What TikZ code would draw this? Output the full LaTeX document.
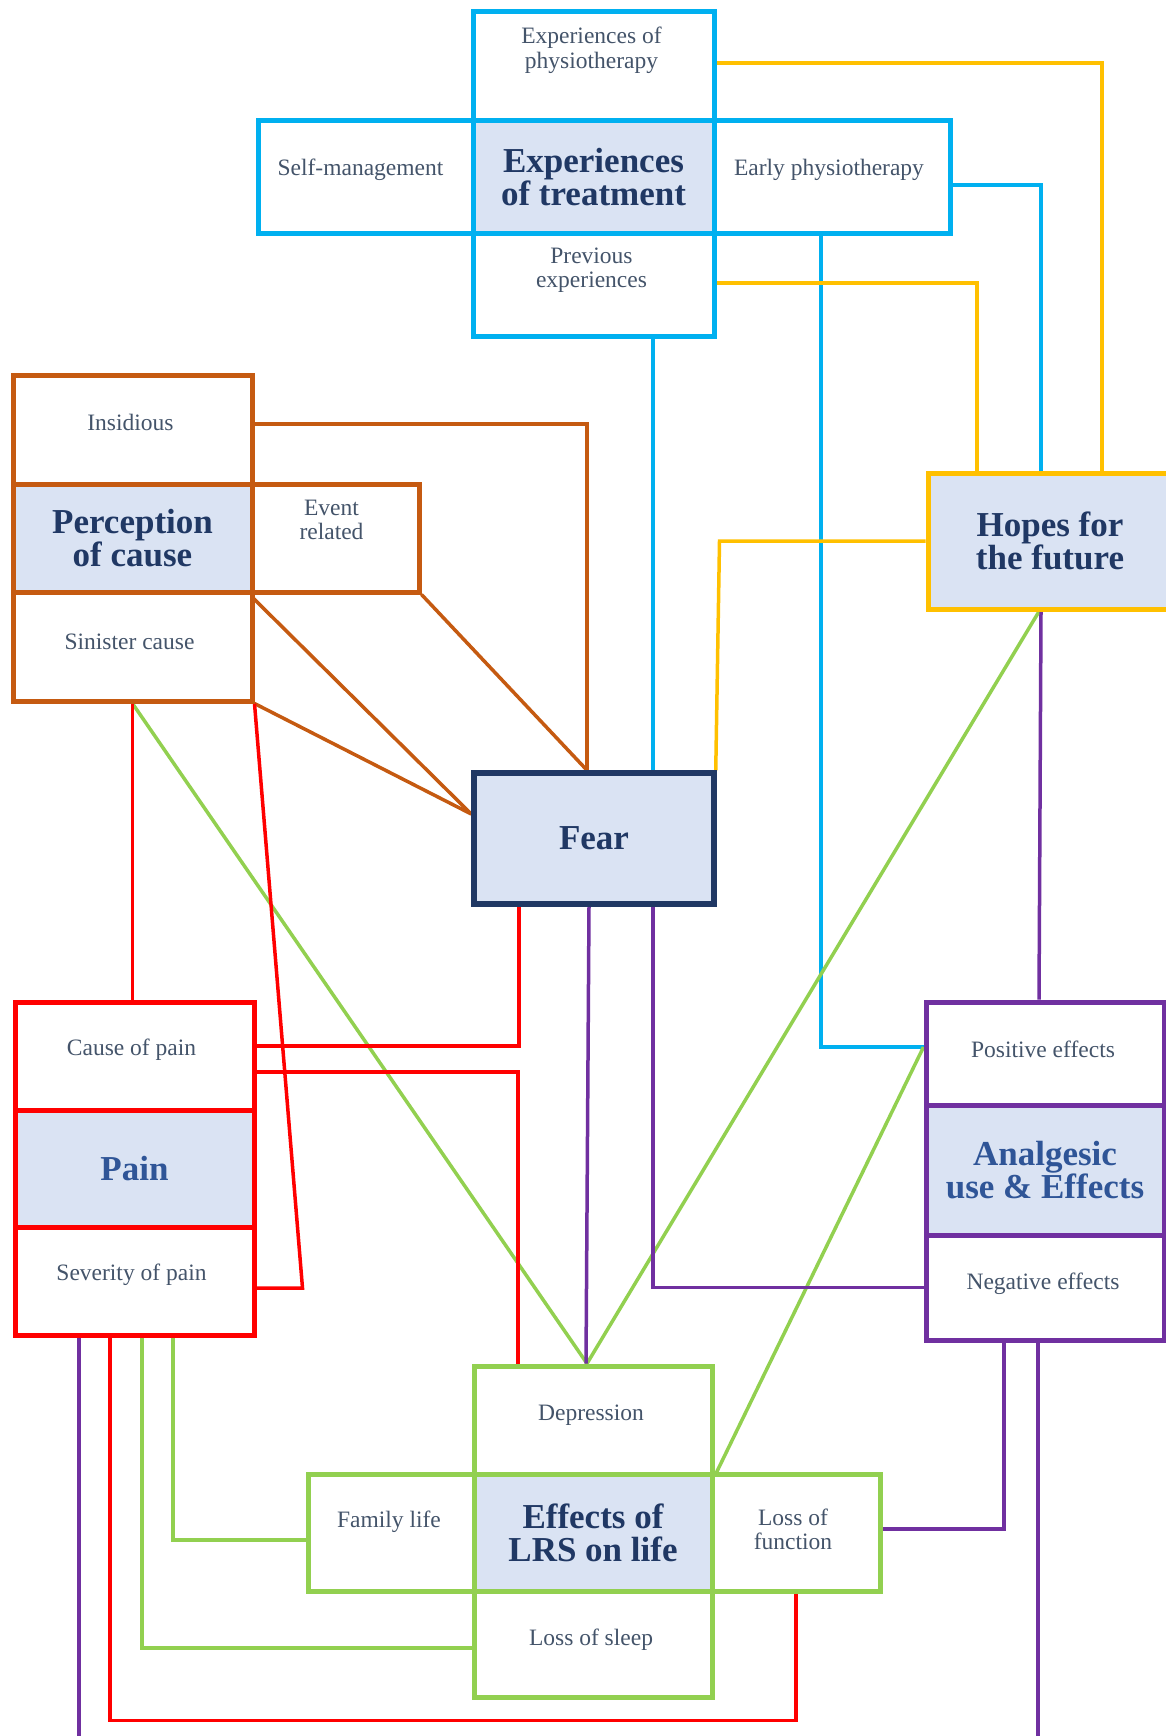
\documentclass[tikz,border=0pt]{standalone}
\usepackage{fontspec}
\setmainfont{Liberation Serif}
\usetikzlibrary{positioning,backgrounds}
\definecolor{treatblue}{RGB}{0,176,240}
\definecolor{hopegold}{RGB}{255,192,0}
\definecolor{causebrown}{RGB}{197,90,17}
\definecolor{painred}{RGB}{255,0,0}
\definecolor{lifegreen}{RGB}{146,208,80}
\definecolor{drugpurple}{RGB}{112,48,160}
\definecolor{fearnavy}{RGB}{32,56,100}
\definecolor{titleblue}{RGB}{47,85,151}
\definecolor{corefill}{RGB}{218,227,243}
\definecolor{cellgray}{RGB}{68,84,106}
\newcommand{\cellfont}{\fontsize{23.5}{24.5}\selectfont}
\newcommand{\corefont}{\bfseries\fontsize{35}{33}\selectfont}

\begin{document}
\begin{tikzpicture}[x=1pt, y=-1pt,
    cell/.style={draw, line width=5pt, fill=white, inner sep=0pt},
    core/.style={cell, fill=corefill, font=\corefont, text=fearnavy, align=center},
    celltxt/.style={font=\cellfont, text=cellgray, align=center, inner sep=0pt},
    link/.style={line width=3.5pt}]
  \useasboundingbox (0,0) rectangle (1166,1736);
  \clip (0,0) rectangle (1166,1736);

  % Experiences of treatment
  \node[cell, draw=treatblue, minimum width=241pt, minimum height=109pt] (phys) at (593.5,66.5) {};
  \node[cell, draw=treatblue, minimum width=215pt, minimum height=113pt] (selfm) at (365.5,177.5) {};
  \node[cell, draw=treatblue, minimum width=236pt, minimum height=113pt] (early) at (832,177.5) {};
  \node[cell, draw=treatblue, minimum width=241pt, minimum height=102pt] (prev) at (593.5,285) {};
  \node[core, draw=treatblue, minimum width=241pt, minimum height=113pt] (treat) at (593.5,177.5)
    {Experiences\\of treatment};
  \node[celltxt] (phys-t) at ([yshift=16pt,xshift=-2pt]phys.center) {Experiences of\\physiotherapy};
  \node[celltxt] (selfm-t) at ([yshift=8pt,xshift=-5pt]selfm.center) {Self-management};
  \node[celltxt] (early-t) at ([yshift=8pt,xshift=-3pt]early.center) {Early physiotherapy};
  \node[celltxt] (prev-t) at ([yshift=15pt,xshift=-2pt]prev.center) {Previous\\experiences};

  % Perception of cause
  \node[cell, draw=causebrown, minimum width=239pt, minimum height=109pt] (insid) at (132.5,429.5) {};
  \node[cell, draw=causebrown, minimum width=167pt, minimum height=108pt] (event) at (335.5,538) {};
  \node[cell, draw=causebrown, minimum width=239pt, minimum height=109pt] (sinis) at (132.5,646.5) {};
  \node[core, draw=causebrown, minimum width=239pt, minimum height=108pt] (percep) at (132.5,538)
    {Perception\\of cause};
  \node[celltxt] (insid-t) at ([yshift=7pt,xshift=-2pt]insid.center) {Insidious};
  \node[celltxt] (event-t) at ([yshift=18pt,xshift=-4pt]event.center) {Event\\related};
  \node[celltxt] (sinis-t) at ([yshift=5pt,xshift=-3pt]sinis.center) {Sinister cause};

  % Fear
  \node[core, draw=fearnavy, line width=5.5pt, minimum width=240pt, minimum height=131pt] (fear) at (594,838.5) {Fear};

  % Hopes for the future
  \node[core, draw=hopegold, minimum width=244pt, minimum height=136pt] (hopes) at (1050,541)
    {Hopes for\\the future};

  % Analgesic use
  \node[cell, draw=drugpurple, minimum width=238pt, minimum height=103pt] (pos) at (1045,1053.5) {};
  \node[cell, draw=drugpurple, minimum width=238pt, minimum height=105pt] (neg) at (1045,1287.5) {};
  \node[core, draw=drugpurple, text=titleblue, minimum width=238pt, minimum height=130pt] (analg) at (1045,1170)
    {Analgesic\\use \& Effects};
  \node[celltxt] (pos-t) at ([yshift=4pt,xshift=-2pt]pos.center) {Positive effects};
  \node[celltxt] (neg-t) at ([yshift=4pt,xshift=-2pt]neg.center) {Negative effects};

  % Pain
  \node[cell, draw=painred, minimum width=239pt, minimum height=108pt] (cause) at (134.5,1056) {};
  \node[cell, draw=painred, minimum width=239pt, minimum height=108pt] (sev) at (134.5,1281) {};
  \node[core, draw=painred, text=titleblue, minimum width=239pt, minimum height=117pt] (pain) at (134.5,1168.5) {Pain};
  \node[celltxt] (cause-t) at ([yshift=6pt,xshift=-3pt]cause.center) {Cause of pain};
  \node[celltxt] (sev-t) at ([yshift=6pt,xshift=-3pt]sev.center) {Severity of pain};

  % Effects of LRS on life
  \node[cell, draw=lifegreen, minimum width=238pt, minimum height=108pt] (dep) at (593,1420) {};
  \node[cell, draw=lifegreen, minimum width=166pt, minimum height=117pt] (fam) at (391,1532.5) {};
  \node[cell, draw=lifegreen, minimum width=168pt, minimum height=117pt] (lof) at (796,1532.5) {};
  \node[cell, draw=lifegreen, minimum width=238pt, minimum height=106pt] (sleep) at (593,1644) {};
  \node[core, draw=lifegreen, minimum width=238pt, minimum height=117pt] (lrs) at (593,1532.5)
    {Effects of\\LRS on life};
  \node[celltxt] (dep-t) at ([yshift=5pt,xshift=-2pt]dep.center) {Depression};
  \node[celltxt] (fam-t) at ([yshift=11pt,xshift=-2pt]fam.center) {Family life};
  \node[celltxt] (lof-t) at ([yshift=3pt,xshift=-3pt]lof.center) {Loss of\\function};
  \node[celltxt] (sleep-t) at ([yshift=4pt,xshift=-2pt]sleep.center) {Loss of sleep};

  \begin{pgfonlayer}{background}
    % blue links
    \draw[link, treatblue] ([xshift=59.5pt]prev.south) -- ([xshift=59pt]fear.north);
    \draw[link, treatblue] ([yshift=-7.5pt]early.east) -| ([xshift=-9pt]hopes.north);
    \draw[link, treatblue] ([xshift=-11pt]early.south) |- ([yshift=6.5pt]pos.west);
    % gold links
    \draw[link, hopegold] ([yshift=3.5pt]phys.east) -| ([xshift=52pt]hopes.north);
    \draw[link, hopegold] ([yshift=2pt]prev.east) -| ([xshift=-73pt]hopes.north);
    \draw[link, hopegold] (hopes.west) -- ++(-206,0) -- ([xshift=-1pt]fear.north east);
    % brown links
    \draw[link, causebrown] ([yshift=5.5pt]insid.east) -| ([xshift=-7pt]fear.north);
    \draw[link, causebrown] (event.south east) -- ([xshift=-7pt]fear.north);
    \draw[link, causebrown] (event.south west) -- ([yshift=24.5pt]fear.west);
    \draw[link, causebrown] (sinis.south east) -- ([yshift=24.5pt]fear.west);
    % green links
    \draw[link, lifegreen] (sinis.south) -- ([xshift=-6pt]dep.north);
    \draw[link, lifegreen] ([xshift=-11pt]hopes.south) -- ([xshift=-6pt]dep.north);
    \draw[link, lifegreen] ([yshift=6.5pt]pos.west) -- (dep.south east);
    \draw[link, lifegreen] ([xshift=38.5pt]sev.south) |- ([yshift=-7.5pt]fam.west);
    \draw[link, lifegreen] ([xshift=7.5pt]sev.south) |- ([yshift=-4pt]sleep.west);
    % red links
    \draw[link, painred] (sinis.south) -- (sinis.south |- cause.north);
    \draw[link, painred] ([yshift=-7pt]sev.east) -- ++(46,0) -- (sinis.south east);
    \draw[link, painred] ([xshift=-75pt]fear.south) |- ([yshift=10pt]cause.east);
    \draw[link, painred] ([yshift=-16pt]cause.east) -| ([xshift=-75pt]dep.north);
    \draw[link, painred] ([xshift=-24.5pt]sev.south) -- ++(0,383) -| (lof.south);
    % purple links
    \draw[link, drugpurple] ([xshift=-9pt]hopes.south) -- ([xshift=-6pt]pos.north);
    \draw[link, drugpurple] ([xshift=-5pt]fear.south) -- ([xshift=-7pt]dep.north);
    \draw[link, drugpurple] ([xshift=59pt]fear.south) |- (neg.west);
    \draw[link, drugpurple] ([xshift=-41pt]neg.south) |- ([yshift=3.5pt]lof.east);
    \draw[link, drugpurple] ([xshift=-7pt]neg.south) -- ++(0,420);
    \draw[link, drugpurple] ([xshift=-55.5pt]sev.south) -- ++(0,420);
  \end{pgfonlayer}
\end{tikzpicture}
\end{document}
